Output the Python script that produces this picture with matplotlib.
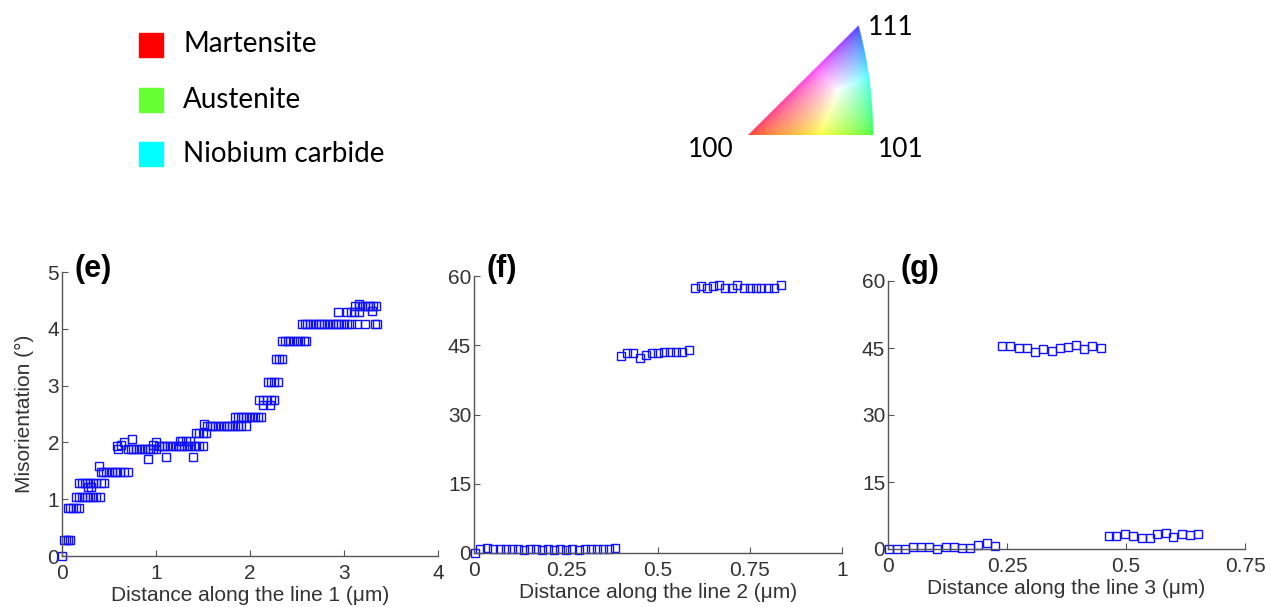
import matplotlib
matplotlib.use("Agg")
import matplotlib.pyplot as plt
import numpy as np

W, H = 1270, 607

# ---- data ----
# line 1 (panel e)
dist1 = [0.00,
         0.02, 0.04, 0.06, 0.08,
         0.06, 0.09, 0.12, 0.15, 0.18,
         0.15, 0.18, 0.21, 0.24, 0.27, 0.30, 0.33, 0.36, 0.40,
         0.18, 0.21, 0.24, 0.27, 0.30, 0.33, 0.36, 0.42, 0.45,
         0.28, 0.31,
         0.39,
         0.41, 0.44, 0.47, 0.50, 0.53, 0.56, 0.59, 0.62, 0.66, 0.70,
         0.58, 0.60, 0.63, 0.66, 0.74,
         0.70, 0.73, 0.76, 0.79, 0.82, 0.85, 0.88, 0.91, 0.94, 0.97, 1.00,
         0.92, 0.97, 1.00,
         1.03, 1.06, 1.09, 1.12, 1.15, 1.18, 1.21, 1.24, 1.27, 1.30, 1.33, 1.36, 1.40, 1.43, 1.46, 1.50,
         1.11, 1.39,
         1.25, 1.28, 1.32, 1.36,
         1.43, 1.46, 1.50, 1.53,
         1.51,
         1.54, 1.57, 1.60, 1.63, 1.66, 1.69, 1.72, 1.75, 1.78, 1.81, 1.84, 1.87, 1.90, 1.96,
         1.84, 1.87, 1.90, 1.93, 1.96, 1.99, 2.02, 2.05, 2.08, 2.12,
         2.10, 2.14, 2.18, 2.22, 2.25,
         2.14, 2.21,
         2.19, 2.22, 2.26, 2.30,
         2.28, 2.31, 2.34,
         2.34, 2.37, 2.40, 2.43, 2.47, 2.50, 2.53, 2.57, 2.60,
         2.55, 2.58, 2.61, 2.64, 2.67, 2.70, 2.73, 2.76, 2.79, 2.82, 2.85, 2.88, 2.91, 2.94, 2.97, 3.00,
         3.03, 3.07, 3.14, 3.22, 3.33, 3.35,
         2.94, 3.03, 3.07, 3.11, 3.16,
         3.12, 3.16, 3.19, 3.22, 3.25, 3.28, 3.31, 3.34,
         3.30, 3.16]
mis1 = [0.00,
        0.28, 0.28, 0.28, 0.28,
        0.85, 0.85, 0.85, 0.85, 0.85,
        1.03, 1.03, 1.03, 1.03, 1.03, 1.03, 1.03, 1.03, 1.03,
        1.28, 1.28, 1.28, 1.28, 1.28, 1.28, 1.28, 1.28, 1.28,
        1.22, 1.22,
        1.58,
        1.48, 1.48, 1.48, 1.48, 1.48, 1.48, 1.48, 1.48, 1.48, 1.48,
        1.93, 1.88, 1.95, 2.00, 2.06,
        1.88, 1.88, 1.88, 1.88, 1.88, 1.88, 1.88, 1.88, 1.88, 1.88, 1.88,
        1.71, 1.95, 2.00,
        1.94, 1.94, 1.94, 1.94, 1.94, 1.94, 1.94, 1.94, 1.94, 1.94, 1.94, 1.94, 1.94, 1.94, 1.94, 1.94,
        1.75, 1.75,
        2.03, 2.03, 2.03, 2.03,
        2.16, 2.16, 2.16, 2.16,
        2.33,
        2.28, 2.28, 2.28, 2.28, 2.28, 2.28, 2.28, 2.28, 2.28, 2.28, 2.28, 2.28, 2.28, 2.28,
        2.44, 2.44, 2.44, 2.44, 2.44, 2.44, 2.44, 2.44, 2.44, 2.44,
        2.75, 2.75, 2.75, 2.75, 2.75,
        2.65, 2.65,
        3.06, 3.06, 3.06, 3.06,
        3.46, 3.46, 3.46,
        3.78, 3.78, 3.78, 3.78, 3.78, 3.78, 3.78, 3.78, 3.78,
        4.08, 4.08, 4.08, 4.08, 4.08, 4.08, 4.08, 4.08, 4.08, 4.08, 4.08, 4.08, 4.08, 4.08, 4.08, 4.08,
        4.08, 4.08, 4.08, 4.08, 4.08, 4.08,
        4.29, 4.29, 4.29, 4.29, 4.29,
        4.41, 4.41, 4.41, 4.41, 4.41, 4.41, 4.41, 4.41,
        4.32, 4.44]

# line 2 (panel f)
dist2 = [0.004, 0.015, 0.034, 0.052, 0.070, 0.086, 0.102, 0.120, 0.136, 0.151, 0.168, 0.185,
         0.201, 0.217, 0.235, 0.251, 0.267, 0.284, 0.301, 0.317, 0.333, 0.350, 0.366, 0.383,
         0.399, 0.416, 0.432, 0.450, 0.467, 0.483, 0.499, 0.516, 0.532, 0.548, 0.564, 0.583,
         0.600, 0.616, 0.633, 0.650, 0.665, 0.683, 0.700, 0.716, 0.734, 0.749, 0.766, 0.781,
         0.799, 0.816, 0.833]
mis2 = [0.1, 0.9, 1.0, 0.8, 0.9, 0.9, 0.8, 0.8, 0.6, 0.8, 0.9, 0.6,
        0.8, 0.7, 0.8, 0.6, 0.9, 0.6, 0.8, 0.8, 0.8, 0.8, 0.9, 1.0,
        42.6, 43.3, 43.3, 42.3, 42.8, 43.3, 43.3, 43.6, 43.6, 43.6, 43.6, 43.9,
        57.5, 57.8, 57.5, 57.8, 58.1, 57.5, 57.5, 58.1, 57.5, 57.5, 57.5, 57.5,
        57.5, 57.5, 58.1]

# line 3 (panel g)
dist3 = [0.002, 0.019, 0.036, 0.053, 0.069, 0.086, 0.103, 0.121, 0.138, 0.156, 0.172, 0.189, 0.207, 0.224,
         0.240, 0.257, 0.275, 0.292, 0.309, 0.326, 0.344, 0.361, 0.378, 0.395, 0.412, 0.429, 0.447,
         0.464, 0.480, 0.498, 0.515, 0.533, 0.550, 0.566, 0.583, 0.599, 0.618, 0.634, 0.652]
mis3 = [0.1, 0.1, 0.1, 0.5, 0.5, 0.5, 0.1, 0.4, 0.4, 0.2, 0.2, 1.0, 1.3, 0.6,
        45.4, 45.4, 45.0, 45.0, 44.1, 44.7, 44.3, 45.0, 45.3, 45.6, 44.7, 45.4, 45.0,
        2.9, 2.9, 3.4, 2.9, 2.5, 2.5, 3.3, 3.6, 2.65, 3.3, 3.1, 3.4]

phases = ["Martensite", "Austenite", "Niobium carbide"]
phase_colors = ["#ff0000", "#66ff33", "#00ffff"]

panels = [
    dict(x=dist1, y=mis1, label="(e)", xlim=(0, 4), ylim=(0, 5),
         xticks=[0, 1, 2, 3, 4], xtl=["0", "1", "2", "3", "4"],
         yticks=[0, 1, 2, 3, 4, 5], xlabel="Distance along the line 1 (\u03bcm)",
         px=(62, 438, 556, 272)),
    dict(x=dist2, y=mis2, label="(f)", xlim=(0, 1), ylim=(0, 60),
         xticks=[0, 0.25, 0.5, 0.75, 1], xtl=["0", "0.25", "0.5", "0.75", "1"],
         yticks=[0, 15, 30, 45, 60], xlabel="Distance along the line 2 (\u03bcm)",
         px=(474, 842, 553, 276)),
    dict(x=dist3, y=mis3, label="(g)", xlim=(0, 0.75), ylim=(0, 60),
         xticks=[0, 0.25, 0.5, 0.75], xtl=["0", "0.25", "0.5", "0.75"],
         yticks=[0, 15, 30, 45, 60], xlabel="Distance along the line 3 (\u03bcm)",
         px=(888, 1245, 549, 281)),
]

plt.rcParams['font.family'] = ['Liberation Sans', 'DejaVu Sans']
fig = plt.figure(figsize=(W / 100, H / 100), dpi=100)

axcol = "#555555"
txtcol = "#333333"

for i, p in enumerate(panels):
    l, r, b, t = p["px"]
    ax = fig.add_axes([l / W, (H - b) / H, (r - l) / W, (b - t) / H])
    ax.plot(p["x"], p["y"], 's', mfc='none', mec='#1010ff', ms=5.2, mew=1.0, clip_on=False)
    ax.set_xlim(p["xlim"])
    ax.set_ylim(p["ylim"])
    ax.set_xticks(p["xticks"])
    ax.set_xticklabels(p["xtl"])
    ax.set_yticks(p["yticks"])
    for s in ["top", "right"]:
        ax.spines[s].set_visible(False)
    for s in ["left", "bottom"]:
        ax.spines[s].set_color(axcol)
        ax.spines[s].set_linewidth(1.0)
    ax.tick_params(direction='in', length=4, width=0.8, color=axcol,
                   labelsize=15, labelcolor=txtcol, pad=2)
    ax.tick_params(axis='x', pad=6)
    ax.set_xlabel(p["xlabel"], fontsize=15, color=txtcol, labelpad=2)
    if i == 0:
        ax.set_ylabel("Misorientation (\u00b0)", fontsize=15, color=txtcol, labelpad=10)
    fig.text((l + 13) / W, (H - 277) / H, p["label"], fontsize=22, fontweight='bold',
             color='black', ha='left', va='baseline')

# phase legend
for k, (name, c) in enumerate(zip(phases, phase_colors)):
    cy = [44.5, 99.5, 153.5][k]
    fig.patches.append(plt.Rectangle((139 / W, (H - cy - 12) / H), 24 / W, 24 / H,
                                     transform=fig.transFigure, color=c, figure=fig))
    fig.text(183 / W, (H - cy) / H, name, fontsize=20, family=['Lato', 'DejaVu Sans'],
             color='black', ha='left', va='center')

# inverse pole figure colour key
gx, gy = np.meshgrid(np.linspace(0, 0.42, 420), np.linspace(0, 0.37, 370))
d = 1 + gx ** 2 + gy ** 2
vx = 2 * gx / d
vy = 2 * gy / d
vz = (1 - gx ** 2 - gy ** 2) / d
rgb = np.stack([np.clip(vz - vx, 0, None), np.clip(vx - vy, 0, None), vy], axis=-1)
rgb = rgb / rgb.max(axis=-1, keepdims=True)
rgb = 0.15 + 0.85 * rgb ** 0.45
inside = (gy <= gx) & ((gx + 1) ** 2 + gy ** 2 <= 2)
rgba = np.dstack([rgb, inside.astype(float)])
ipf = fig.add_axes([748 / W, (H - 135) / H, 0.42 * 302 / W, 0.37 * 300 / H])
ipf.imshow(rgba, origin='lower', extent=[0, 0.42, 0, 0.37], aspect='auto', interpolation='bilinear')
ipf.axis('off')
for lab, xx, yy in [("111", 868, 35), ("100", 688, 157), ("101", 878, 157)]:
    fig.text(xx / W, (H - yy) / H, lab, fontsize=19, family=['Lato', 'DejaVu Sans'],
             color='black', ha='left', va='baseline')

fig.savefig("out.png", dpi=100)
